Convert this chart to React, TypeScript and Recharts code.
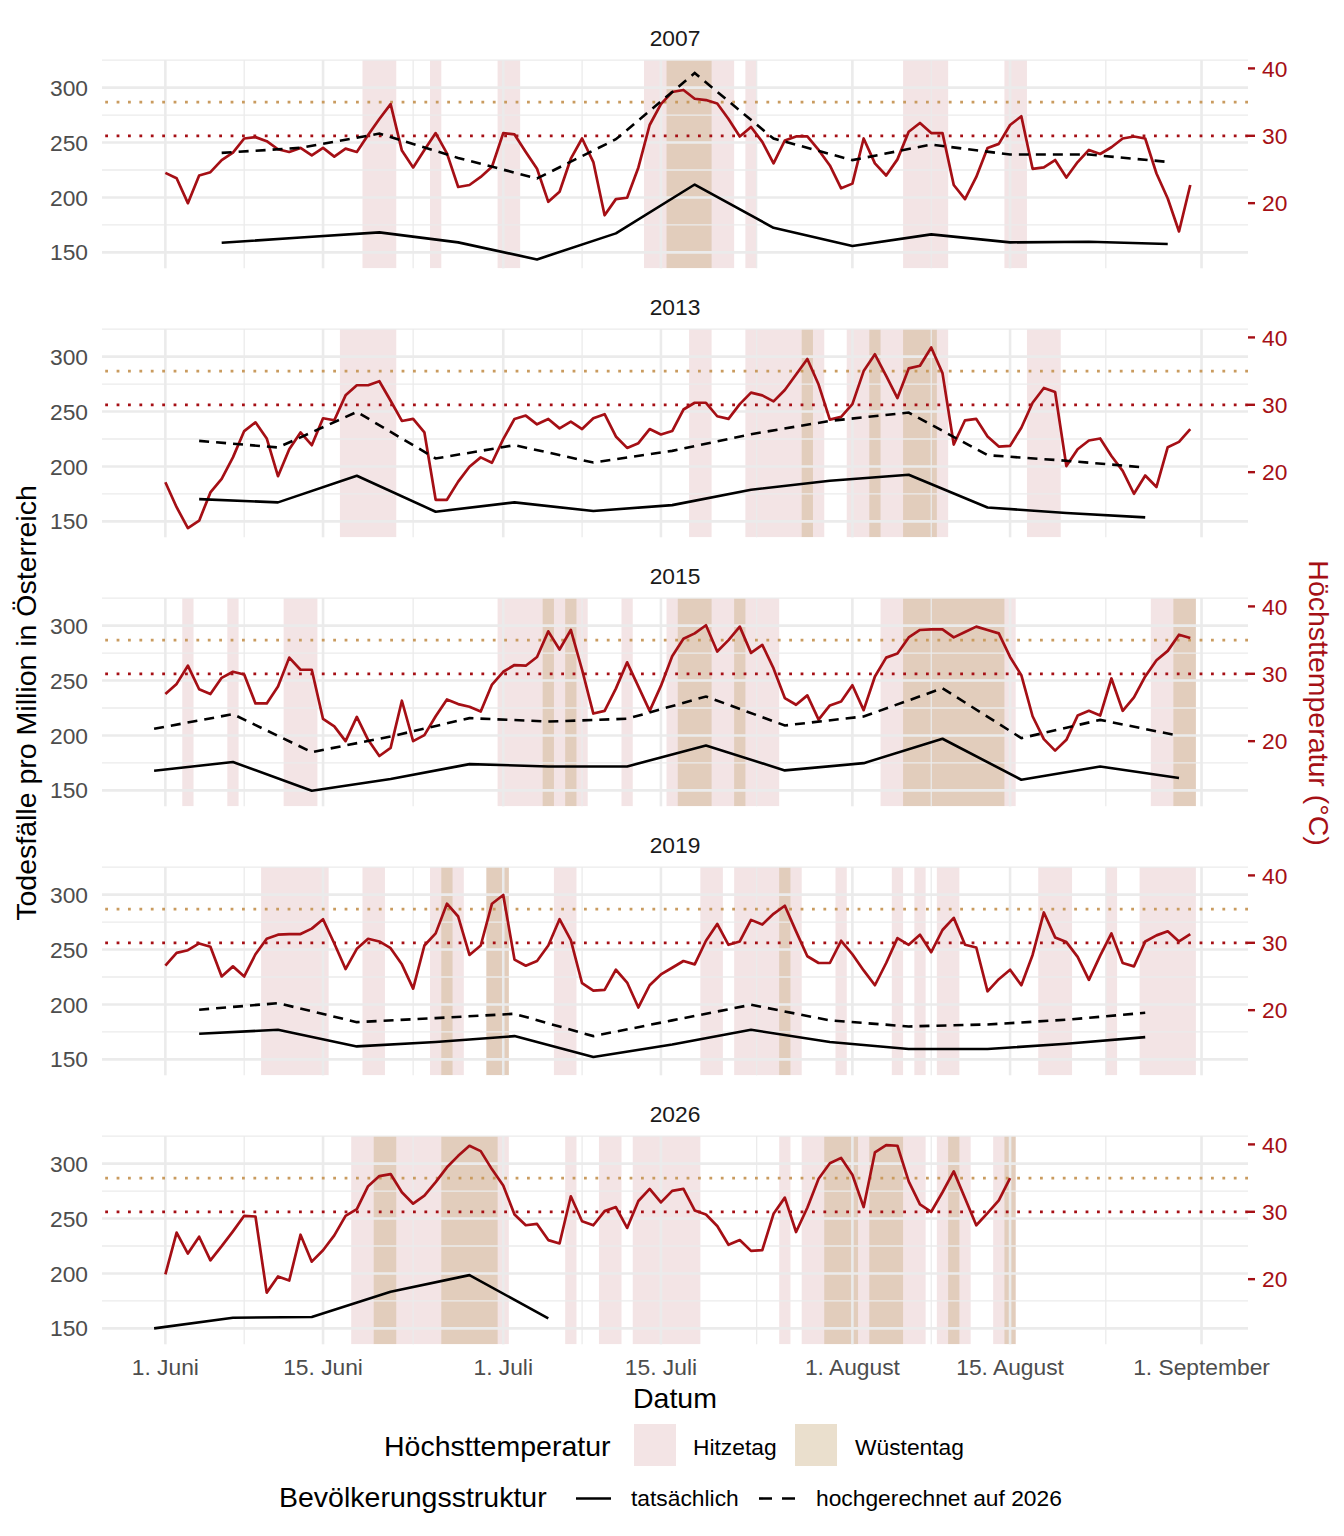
import React from "react"
import {
  ComposedChart,
  Line,
  XAxis,
  YAxis,
  ReferenceLine,
  ReferenceArea,
} from "recharts"

// Tag 0 = 1. Juni, Tageswerte der Höchsttemperatur (°C)
const temp2007 = [
  24.5, 23.7, 20.0, 24.1, 24.6, 26.4, 27.5, 29.6, 29.8, 29.2,
  28.0, 27.6, 28.2, 27.1, 28.2, 26.9, 28.1, 27.6, 30.1, 32.5,
  34.7, 27.8, 25.3, 27.9, 30.4, 27.4, 22.4, 22.7, 23.9, 25.4,
  30.4, 30.2, 27.6, 25.1, 20.2, 21.7, 26.6, 29.6, 26.1, 18.2,
  20.6, 20.8, 25.3, 31.6, 34.7, 36.5, 36.8, 35.5, 35.3, 34.8,
  32.5, 29.9, 31.3, 29.1, 25.9, 29.3, 29.9, 29.9, 27.9, 25.6,
  22.2, 22.9, 29.6, 25.9, 24.1, 26.5, 30.6, 31.9, 30.4, 30.4,
  22.7, 20.6, 23.9, 28.2, 28.8, 31.6, 32.9, 25.1, 25.3, 26.4,
  23.8, 26.1, 27.9, 27.3, 28.3, 29.6, 29.9, 29.6, 24.4, 20.7,
  15.8, 22.7,
]
const temp2013 = [
  18.5, 14.8, 11.7, 12.8, 17.0, 19.0, 22.2, 26.1, 27.4, 25.0,
  19.4, 23.4, 25.9, 24.0, 28.0, 27.7, 31.4, 32.9, 32.9, 33.5,
  30.6, 27.6, 27.9, 25.9, 15.9, 15.9, 18.6, 20.8, 22.2, 21.4,
  24.9, 27.9, 28.4, 27.1, 27.9, 26.5, 27.5, 26.4, 28.0, 28.6,
  25.3, 23.6, 24.3, 26.4, 25.6, 26.1, 29.3, 30.3, 30.3, 28.3,
  27.9, 30.1, 31.8, 31.4, 30.5, 32.2, 34.5, 36.8, 33.0, 27.8,
  28.2, 30.1, 35.0, 37.5, 34.3, 31.0, 35.4, 35.8, 38.5, 34.7,
  24.1, 27.7, 27.9, 25.3, 23.8, 23.9, 26.6, 30.3, 32.5, 31.9,
  20.9, 23.4, 24.7, 25.0, 22.4, 20.2, 16.8, 19.5, 17.8, 23.7,
  24.5, 26.4,
]
const temp2015 = [
  27.0, 28.5, 31.2, 27.7, 27.0, 29.4, 30.3, 29.9, 25.6, 25.6,
  28.1, 32.4, 30.6, 30.6, 23.3, 22.2, 20.0, 23.6, 20.2, 17.8,
  19.0, 26.0, 20.0, 20.9, 23.7, 26.2, 25.5, 25.1, 24.4, 28.4,
  30.3, 31.3, 31.2, 32.5, 36.3, 33.6, 36.5, 30.6, 24.1, 24.5,
  27.8, 31.7, 28.1, 24.5, 28.2, 32.6, 35.2, 36.0, 37.2, 33.3,
  35.0, 37.0, 33.1, 34.3, 30.8, 26.4, 25.4, 26.8, 23.2, 25.3,
  25.9, 28.3, 24.6, 29.6, 32.4, 33.0, 35.4, 36.5, 36.6, 36.6,
  35.4, 36.2, 37.0, 36.5, 36.0, 32.5, 29.8, 23.7, 20.3, 18.6,
  20.2, 23.8, 24.5, 23.8, 29.3, 24.5, 26.5, 29.6, 32.0, 33.4,
  35.8, 35.3,
]
const temp2019 = [
  26.6, 28.5, 28.9, 29.9, 29.4, 25.0, 26.5, 25.0, 28.3, 30.6,
  31.2, 31.3, 31.3, 32.1, 33.5, 29.9, 26.1, 29.1, 30.6, 30.2,
  29.2, 26.8, 23.2, 29.6, 31.4, 35.8, 33.9, 28.2, 29.6, 35.8,
  37.1, 27.5, 26.6, 27.3, 29.6, 33.5, 30.4, 24.0, 22.9, 23.0,
  26.0, 24.1, 20.4, 23.7, 25.3, 26.3, 27.3, 26.8, 30.3, 32.8,
  29.7, 30.2, 33.4, 32.7, 34.3, 35.5, 31.7, 28.0, 27.0, 27.0,
  30.3, 28.3, 25.9, 23.7, 27.0, 30.7, 29.7, 31.2, 28.6, 31.9,
  33.7, 29.7, 29.3, 22.8, 24.6, 26.0, 23.7, 28.2, 34.5, 30.8,
  30.1, 27.9, 24.5, 28.1, 31.4, 27.0, 26.5, 30.2, 31.1, 31.7,
  30.2, 31.3,
]
const temp2026 = [
  20.7, 26.9, 23.8, 26.3, 22.8, 24.9, 27.1, 29.4, 29.3, 18.0,
  20.4, 19.8, 26.6, 22.6, 24.3, 26.5, 29.4, 30.4, 33.8, 35.3,
  35.6, 32.9, 31.2, 32.4, 34.4, 36.6, 38.3, 39.8, 39.0, 36.3,
  33.9, 29.6, 28.0, 28.2, 25.8, 25.3, 32.3, 28.6, 28.0, 30.1,
  30.7, 27.6, 31.6, 33.4, 31.4, 33.1, 33.4, 30.2, 29.6, 27.9,
  25.1, 25.8, 24.2, 24.3, 29.7, 32.1, 27.0, 30.6, 34.9, 37.2,
  38.0, 35.5, 30.7, 38.8, 39.9, 39.8, 34.5, 31.1, 30.0, 32.9,
  36.0, 32.0, 28.0, 29.8, 31.7, 35.0,
]

// Wochenwerte: Todesfälle pro Million
const weeks2007 = [5, 12, 19, 26, 33, 40, 47, 54, 61, 68, 75, 82, 89]
const actual2007 = [158.8, 163.5, 168.2, 159.1, 143.6, 167.3, 211.8, 172.4, 155.8, 166.4, 159.1, 159.7, 157.6]
const projected2007 = [240.6, 245.2, 258.2, 236, 217.3, 253, 313.3, 253.6, 234.0, 248.2, 239.1, 239.1, 232.4]

const weeks2013 = [3, 10, 17, 24, 31, 38, 45, 52, 59, 66, 73, 80, 87]
const actual2013 = [170.3, 167.3, 191.5, 158.8, 167.3, 159.4, 164.8, 178.8, 187.0, 192.4, 162.7, 157.6, 153.6]
const projected2013 = [223.3, 217.3, 249.7, 207.3, 219.4, 203.6, 214.2, 229.4, 241.5, 249.1, 210.3, 205.2, 199.1]

const weeks2015 = [-1, 6, 13, 20, 27, 34, 41, 48, 55, 62, 69, 76, 83, 90]
const actual2015 = [167.9, 175.8, 149.7, 160.3, 173.9, 171.8, 171.8, 190.9, 168.2, 174.8, 197.0, 159.7, 171.8, 161.2]
const projected2015 = [206.1, 219.4, 184.8, 199.1, 215.8, 212.7, 215.2, 235.5, 209.1, 217.3, 243.0, 197.6, 214.2, 199.7]

const weeks2019 = [3, 10, 17, 24, 31, 38, 45, 52, 59, 66, 73, 80, 87]
const actual2019 = [173.3, 177.0, 161.8, 165.8, 171.2, 152.1, 163.6, 177.0, 165.8, 159.4, 159.4, 164.2, 170.3]
const projected2019 = [195.2, 201.2, 183.9, 187.6, 191.5, 171.2, 185.5, 199.7, 185.5, 180.0, 181.8, 186.1, 192.4]

const weeks2026 = [-1, 6, 13, 20, 27, 34]
const actual2026 = [150.0, 159.7, 160.3, 183.3, 198.5, 159.1]

// Hitzetage (>= 30 °C) und Wüstentage (>= 35 °C)
const hitze2007 = [18, 19, 20, 24, 30, 31, 43, 44, 45, 46, 47, 48, 49, 50, 52, 66, 67, 68, 69, 75, 76]
const wueste2007 = [45, 46, 47, 48]
const hitze2013 = [16, 17, 18, 19, 20, 47, 48, 52, 53, 54, 55, 56, 57, 58, 61, 62, 63, 64, 65, 66, 67, 68, 69, 77, 78, 79]
const wueste2013 = [57, 63, 66, 67, 68]
const hitze2015 = [2, 6, 11, 12, 13, 30, 31, 32, 33, 34, 35, 36, 37, 41, 45, 46, 47, 48, 49, 50, 51, 52, 53, 54, 64, 65, 66, 67, 68, 69, 70, 71, 72, 73, 74, 75, 88, 89, 90, 91]
const wueste2015 = [34, 36, 46, 47, 48, 51, 66, 67, 68, 69, 70, 71, 72, 73, 74, 90, 91]
const hitze2019 = [9, 10, 11, 12, 13, 14, 18, 19, 24, 25, 26, 29, 30, 35, 36, 48, 49, 51, 52, 53, 54, 55, 56, 60, 65, 67, 69, 70, 78, 79, 80, 84, 87, 88, 89, 90, 91]
const wueste2019 = [25, 29, 30, 55]
const hitze2026 = [17, 18, 19, 20, 21, 22, 23, 24, 25, 26, 27, 28, 29, 30, 36, 39, 40, 42, 43, 44, 45, 46, 47, 55, 57, 58, 59, 60, 61, 62, 63, 64, 65, 66, 67, 69, 70, 71, 74, 75]
const wueste2026 = [19, 20, 25, 26, 27, 28, 29, 59, 60, 61, 63, 64, 65, 70, 75]

const dateTicks = [0, 14, 30, 44, 61, 75, 92]
const dateLabels = ["1. Juni", "15. Juni", "1. Juli", "15. Juli", "1. August", "15. August", "1. September"]
const minorDates = [7, 22, 37, 52.5, 68, 83.5]
const deathTicks = [150, 200, 250, 300]
const minorDeaths = [175, 225, 275, 325]
const tempTicks = [20, 30, 40]

const panels = [
  { year: "2007", temp: temp2007, weeks: weeks2007, actual: actual2007, projected: projected2007, hitze: hitze2007, wueste: wueste2007 },
  { year: "2013", temp: temp2013, weeks: weeks2013, actual: actual2013, projected: projected2013, hitze: hitze2013, wueste: wueste2013 },
  { year: "2015", temp: temp2015, weeks: weeks2015, actual: actual2015, projected: projected2015, hitze: hitze2015, wueste: wueste2015 },
  { year: "2019", temp: temp2019, weeks: weeks2019, actual: actual2019, projected: projected2019, hitze: hitze2019, wueste: wueste2019 },
  { year: "2026", temp: temp2026, weeks: weeks2026, actual: actual2026, projected: null, hitze: hitze2026, wueste: wueste2026 },
]

const FONT = "'Liberation Sans', Arial, Helvetica, sans-serif"
const RED = "#a50f15"
const TAN_LINE = "#c99b5f"
const GRID = "#ebebeb"
const PINK_FILL = "#cf9397"
const TAN_FILL = "#c3a470"

const X_DOMAIN = [-5.625, 96.125]
const LEFT_DOMAIN = [135.5, 325.2]
const RIGHT_DOMAIN = [10.334, 41.248]
const PANEL_TOP = 60
const PANEL_STEP = 269
const PLOT_H = 208.3

function buildRows(p) {
  const map = new Map()
  const row = (d) => {
    if (!map.has(d)) map.set(d, { day: d })
    return map.get(d)
  }
  p.temp.forEach((t, i) => {
    row(i).temp = t
  })
  p.weeks.forEach((d, i) => {
    row(d).actual = p.actual[i]
    if (p.projected) row(d).projected = p.projected[i]
  })
  return Array.from(map.values()).sort((a, b) => a.day - b.day)
}

function runs(days) {
  const out = []
  for (const d of days) {
    const last = out[out.length - 1]
    if (last && d === last[1] + 1) last[1] = d
    else out.push([d, d])
  }
  return out
}

function Panel({ p, index, last }) {
  const rows = buildRows(p)
  const mt = 16
  const mb = last ? 0 : 14
  const xh = last ? 60 : 0
  const h = mt + PLOT_H + xh + mb
  const tickStyle = { fill: "#4d4d4d", fontSize: 22.8, fontFamily: FONT }

  return (
    <div style={{ position: "absolute", left: 0, top: PANEL_TOP + index * PANEL_STEP - mt }}>
      <ComposedChart width={1344} height={h} data={rows} margin={{ top: mt, right: 0, bottom: mb, left: 0 }}>
        <XAxis
          type="number"
          dataKey="day"
          domain={X_DOMAIN}
          allowDataOverflow
          ticks={dateTicks}
          interval={0}
          tickFormatter={(v) => dateLabels[dateTicks.indexOf(v)]}
          hide={!last}
          height={xh}
          axisLine={false}
          tickLine={false}
          tickSize={0}
          tickMargin={14.5}
          tick={tickStyle}
        />
        <YAxis
          yAxisId="left"
          domain={LEFT_DOMAIN}
          allowDataOverflow
          ticks={deathTicks}
          interval={0}
          width={102}
          axisLine={false}
          tickLine={false}
          tickSize={0}
          tickMargin={14}
          tick={tickStyle}
        />
        <YAxis
          yAxisId="right"
          orientation="right"
          domain={RIGHT_DOMAIN}
          allowDataOverflow
          ticks={tempTicks}
          interval={0}
          width={96}
          axisLine={false}
          tickLine={{ stroke: RED, strokeWidth: 2.4 }}
          tickSize={7}
          tickMargin={7}
          tick={{ ...tickStyle, fill: RED }}
        />

        {minorDeaths.map((v) => (
          <ReferenceLine key={"my" + v} yAxisId="left" y={v} stroke={GRID} strokeWidth={1.3} ifOverflow="visible" />
        ))}
        {minorDates.map((v) => (
          <ReferenceLine key={"mx" + v} yAxisId="left" x={v} stroke={GRID} strokeWidth={1.3} />
        ))}
        {deathTicks.map((v) => (
          <ReferenceLine key={"gy" + v} yAxisId="left" y={v} stroke={GRID} strokeWidth={2.6} />
        ))}
        {dateTicks.map((v) => (
          <ReferenceLine key={"gx" + v} yAxisId="left" x={v} stroke={GRID} strokeWidth={2.6} />
        ))}

        {runs(p.hitze).map(([a, b]) => (
          <ReferenceArea key={"h" + a} yAxisId="left" x1={a - 0.5} x2={b + 0.5} fill={PINK_FILL} fillOpacity={0.25} stroke="none" ifOverflow="hidden" />
        ))}
        {runs(p.wueste).map(([a, b]) => (
          <ReferenceArea key={"w" + a} yAxisId="left" x1={a - 0.5} x2={b + 0.5} fill={TAN_FILL} fillOpacity={0.35} stroke="none" ifOverflow="hidden" />
        ))}

        <ReferenceLine yAxisId="right" y={35} stroke={TAN_LINE} strokeWidth={2.7} strokeDasharray="2.8 8.6" />
        <ReferenceLine yAxisId="right" y={30} stroke={RED} strokeWidth={2.7} strokeDasharray="2.8 8.6" />

        <Line
          yAxisId="right"
          type="linear"
          dataKey="temp"
          stroke={RED}
          strokeWidth={2.7}
          strokeLinejoin="round"
          dot={false}
          activeDot={false}
          isAnimationActive={false}
        />
        {p.projected && (
          <Line
            yAxisId="left"
            type="linear"
            dataKey="projected"
            stroke="#000"
            strokeWidth={2.6}
            strokeDasharray="10 7"
            dot={false}
            activeDot={false}
            connectNulls
            isAnimationActive={false}
          />
        )}
        <Line
          yAxisId="left"
          type="linear"
          dataKey="actual"
          stroke="#000"
          strokeWidth={2.6}
          strokeLinejoin="round"
          dot={false}
          activeDot={false}
          connectNulls
          isAnimationActive={false}
        />
      </ComposedChart>
    </div>
  )
}

function Overlay() {
  return (
    <svg
      width={1344}
      height={1536}
      style={{ position: "absolute", left: 0, top: 0, pointerEvents: "none" }}
      fontFamily={FONT}
    >
      {panels.map((p, i) => (
        <text key={p.year} x={675} y={46.2 + i * PANEL_STEP} textAnchor="middle" fontSize={22.8} fill="#1a1a1a">
          {p.year}
        </text>
      ))}

      <text transform="translate(35.5,703) rotate(-90)" textAnchor="middle" fontSize={28.5} fill="#000">
        Todesfälle pro Million in Österreich
      </text>
      <text transform="translate(1309,703) rotate(90)" textAnchor="middle" fontSize={28.5} fill={RED}>
        Höchsttemperatur (°C)
      </text>
      <text x={675} y={1408} textAnchor="middle" fontSize={28.5} fill="#000">
        Datum
      </text>

      {/* Legende */}
      <text x={384} y={1456} fontSize={28.5} fill="#000">Höchsttemperatur</text>
      <rect x={634} y={1424} width={42} height={42} fill={PINK_FILL} fillOpacity={0.25} />
      <text x={693} y={1455} fontSize={22.8} fill="#000">Hitzetag</text>
      <rect x={795} y={1424} width={42} height={42} fill={TAN_FILL} fillOpacity={0.35} />
      <text x={855} y={1455} fontSize={22.8} fill="#000">Wüstentag</text>

      <text x={279} y={1507} fontSize={28.5} fill="#000">Bevölkerungsstruktur</text>
      <line x1={576} x2={611} y1={1498.5} y2={1498.5} stroke="#000" strokeWidth={2.6} />
      <text x={631} y={1506} fontSize={22.8} fill="#000">tatsächlich</text>
      <line x1={759} x2={796} y1={1498.5} y2={1498.5} stroke="#000" strokeWidth={2.6} strokeDasharray="13 10" />
      <text x={816} y={1506} fontSize={22.8} fill="#000">hochgerechnet auf 2026</text>
    </svg>
  )
}

export default function App() {
  return (
    <div style={{ position: "absolute", left: 0, top: 0, width: 1344, height: 1536, background: "#fff", fontFamily: FONT }}>
      {panels.map((p, i) => (
        <Panel key={p.year} p={p} index={i} last={i === panels.length - 1} />
      ))}
      <Overlay />
    </div>
  )
}
